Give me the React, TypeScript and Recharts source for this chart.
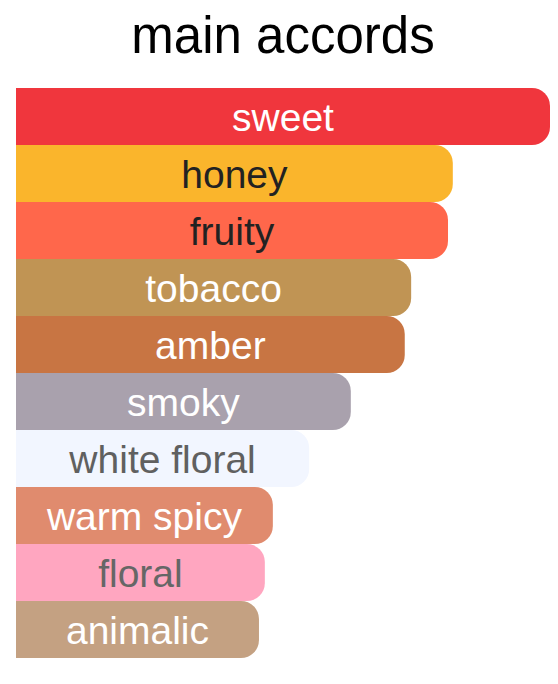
import { BarChart, Bar, XAxis, YAxis, Cell, LabelList } from "recharts";

const accords = ["sweet", "honey", "fruity", "tobacco", "amber", "smoky", "white floral", "warm spicy", "floral", "animalic"];
const strength = [100, 81.8, 80.9, 74.0, 72.8, 62.7, 54.9, 48.1, 46.6, 45.5];
const barColors = ["#f0363d", "#fab52c", "#ff674b", "#c09454", "#c87543", "#a9a1ad", "#f2f6ff", "#e08b6e", "#ffa6c0", "#c4a182"];
const textColors = ["#ffffff", "#222222", "#222222", "#ffffff", "#ffffff", "#ffffff", "#606060", "#ffffff", "#666666", "#ffffff"];

const FONT = "'Liberation Sans', Arial, Helvetica, sans-serif";

const chartData = accords.map((name, i) => ({
    name,
    value: strength[i],
}));

function AccordLabel(props: any) {
    const { x, y, width, height, value } = props;
    const i = accords.indexOf(value);
    return (
        <text
            x={Number(x) + Number(width) / 2}
            y={Number(y) + Number(height) / 2 + 1}
            textAnchor="middle"
            dominantBaseline="central"
            fill={textColors[i]}
            fontSize={39}
            fontFamily={FONT}
        >
            {value}
        </text>
    );
}

export default function App() {
    return (
        <div style={{ position: "absolute", left: 0, top: 0, width: 558, height: 684, background: "#fff" }}>
            <div
                style={{
                    position: "absolute",
                    left: 16,
                    top: 10,
                    width: 534,
                    textAlign: "center",
                    fontFamily: FONT,
                    fontSize: 51,
                    lineHeight: "51px",
                    color: "#000",
                }}
            >
                main accords
            </div>
            <BarChart
                width={558}
                height={684}
                data={chartData}
                layout="vertical"
                barCategoryGap={0}
                margin={{ top: 88, right: 8, bottom: 26, left: 16 }}
            >
                <XAxis type="number" domain={[0, 100]} hide />
                <YAxis type="category" dataKey="name" hide />
                <Bar dataKey="value" radius={[0, 18, 18, 0]} isAnimationActive={false}>
                    {chartData.map((entry, index) => (
                        <Cell key={`cell-${index}`} fill={barColors[index]} />
                    ))}
                    <LabelList dataKey="name" content={AccordLabel} />
                </Bar>
            </BarChart>
        </div>
    );
}
